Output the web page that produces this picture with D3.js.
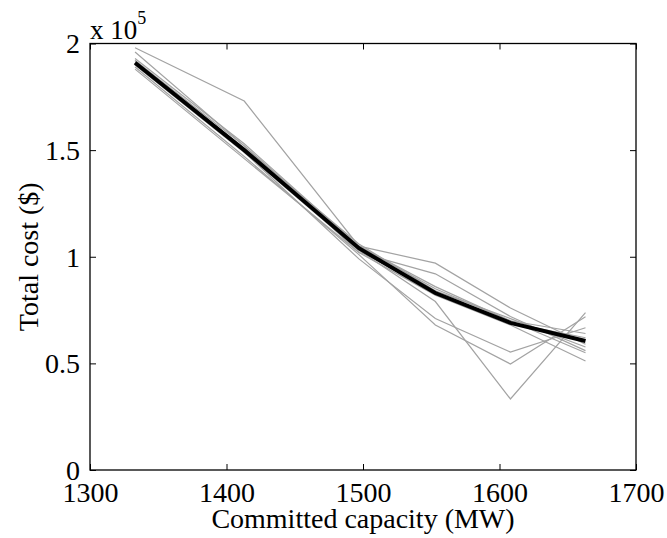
<!DOCTYPE html>
<html><head><meta charset="utf-8">
<script src="https://cdn.jsdelivr.net/npm/d3@7"></script>
<style>body{margin:0;background:#fff}svg{display:block}text{font-family:"Liberation Serif","Times New Roman",serif;fill:#000}</style>
</head><body><svg id="c" width="667" height="538"></svg>
<script>
const capacity = [1333, 1413, 1497, 1553, 1608, 1663];
const meanCost = [1.91, 1.50, 1.04, 0.83, 0.69, 0.605];
const scenario1 = [1.98, 1.73, 1.05, 0.97, 0.76, 0.59];
const scenario2 = [1.96, 1.52, 1.02, 0.92, 0.72, 0.56];
const scenario3 = [1.93, 1.53, 1.05, 0.86, 0.70, 0.64];
const scenario4 = [1.90, 1.49, 0.99, 0.71, 0.553, 0.667];
const scenario5 = [1.89, 1.47, 1.01, 0.68, 0.497, 0.719];
const scenario6 = [1.92, 1.50, 1.03, 0.79, 0.333, 0.738];
const scenario7 = [1.88, 1.46, 1.02, 0.82, 0.68, 0.511];
const scenario8 = [1.91, 1.51, 1.06, 0.84, 0.71, 0.577];
const scenario9 = [1.90, 1.49, 1.03, 0.83, 0.69, 0.62];
const scenario10 = [1.92, 1.52, 1.05, 0.85, 0.70, 0.55];
const scenarios = [scenario1,scenario2,scenario3,scenario4,scenario5,scenario6,scenario7,scenario8,scenario9,scenario10];
const xTicks = [1300, 1400, 1500, 1600, 1700];
const yTicks = [0, 0.5, 1, 1.5, 2];
const xLabel = "Committed capacity (MW)";
const yLabel = "Total cost ($)";

const L=90,R=636,T=43.5,B=470;
const svg=d3.select("#c");
const x=d3.scaleLinear().domain([1300,1700]).range([L,R]);
const y=d3.scaleLinear().domain([0,2]).range([B,T]);
const line=d3.line().x((d,i)=>x(capacity[i])).y(d=>y(d));

const g=svg.append("g");
scenarios.forEach(s=>g.append("path").attr("d",line(s)).attr("fill","none").attr("stroke","#a3a3a3").attr("stroke-width",1.2));
g.append("path").attr("d",line(meanCost)).attr("fill","none").attr("stroke","#000").attr("stroke-width",4);

const fs=28;
const ax=svg.append("g").attr("transform",`translate(0,${B})`).call(d3.axisBottom(x).tickValues(xTicks).tickSize(-6).tickPadding(12).tickFormat(d3.format("d")));
const ay=svg.append("g").attr("transform",`translate(${L},0)`).call(d3.axisLeft(y).tickValues(yTicks).tickSize(-6).tickPadding(10).tickFormat(d=>d3.format("")(d)));
const at=svg.append("g").attr("transform",`translate(0,${T})`).call(d3.axisTop(x).tickValues(xTicks).tickSize(-6).tickFormat(""));
const ar=svg.append("g").attr("transform",`translate(${R},0)`).call(d3.axisRight(y).tickValues(yTicks).tickSize(-6).tickFormat(""));
[ax,ay,at,ar].forEach(a=>{a.attr("font-family",null).attr("font-size",null);a.select(".domain").remove();a.selectAll("line").attr("stroke","#000");a.selectAll("text").style("font-size",fs+"px").style("font-family","'Liberation Serif',serif");});
ax.selectAll("text").attr("dy","0.71em");
ay.selectAll("text").attr("dy","0.33em");
svg.append("rect").attr("x",L).attr("y",T).attr("width",R-L).attr("height",B-T).attr("fill","none").attr("stroke","#000").attr("stroke-width",1.3);

const ex=svg.append("text").attr("x",L).attr("y",39).style("font-size","27px");
ex.append("tspan").text("x 10");
ex.append("tspan").attr("dy",-15).style("font-size","18px").text("5");

svg.append("text").attr("x",(L+R)/2).attr("y",528).attr("text-anchor","middle").style("font-size",fs+"px").text(xLabel);
svg.append("text").attr("transform",`translate(38,${(T+B)/2}) rotate(-90)`).attr("text-anchor","middle").style("font-size",fs+"px").text(yLabel);
</script></body></html>
